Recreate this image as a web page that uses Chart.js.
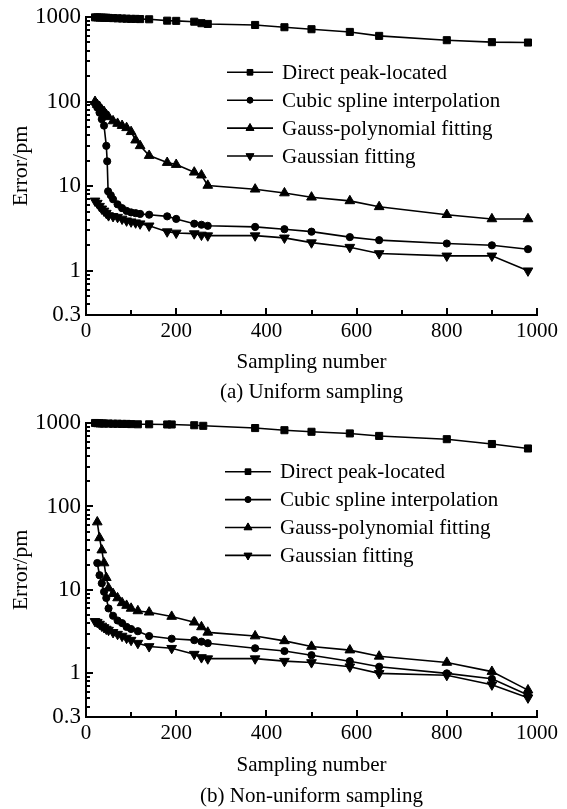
<!DOCTYPE html>
<html><head><meta charset="utf-8">
<script src="https://cdn.jsdelivr.net/npm/chart.js@4"></script>
<style>
html,body{margin:0;padding:0;background:#fff;}
canvas{display:block;}
</style>
</head><body>
<canvas id="c1" width="567" height="404"></canvas>
<canvas id="c2" width="567" height="405"></canvas>
<script>
// ---------- data ----------
const seriesNames = ['Direct peak-located','Cubic spline interpolation','Gauss-polynomial fitting','Gaussian fitting'];
const yTickValues = [0.3, 1, 10, 100, 1000];
const xAxisTitle = 'Sampling number';
const yAxisTitle = 'Error/pm';
const captionA = '(a) Uniform sampling';
const captionB = '(b) Non-uniform sampling';

// (a) Uniform sampling
const xDirectA = [20,25,30,35,40,45,50,60,70,80,90,100,110,120,140,180,200,240,256,270,375,440,500,585,650,800,900,980];
const yDirectA = [990,990,985,985,980,980,975,970,965,960,955,950,950,945,940,905,900,880,845,828,805,757,717,666,598,532,504,499];
const xCubicA = [20,25,30,35,40,45,47,49,55,60,70,80,90,100,110,120,140,180,200,240,256,270,375,440,500,585,650,800,900,980];
const yCubicA = [95,85,74,62,52,30,19.7,8.7,7.8,7.0,6.1,5.5,5.1,4.9,4.8,4.7,4.6,4.4,4.1,3.6,3.5,3.4,3.3,3.1,2.9,2.5,2.3,2.1,2.0,1.8];
const xGaussPolyA = [20,25,30,35,40,45,50,60,70,80,90,100,110,120,140,180,200,240,256,270,375,440,500,585,650,800,900,980];
const yGaussPolyA = [100,92,87,80,76,70,66,59,55,52,49,44,35,30,23,19,18,14.6,13.5,10.2,9.2,8.3,7.4,6.7,5.7,4.6,4.1,4.1];
const xGaussianA = [20,25,30,35,40,45,50,60,70,80,90,100,110,120,140,180,200,240,256,270,375,440,500,585,650,800,900,980];
const yGaussianA = [6.7,6.3,5.8,5.4,5.1,4.8,4.5,4.4,4.3,4.1,3.9,3.8,3.7,3.6,3.4,2.9,2.8,2.75,2.65,2.6,2.6,2.45,2.15,1.9,1.6,1.5,1.5,1.0];

// (b) Non-uniform sampling
const xDirectB = [20,25,30,35,40,50,60,70,80,90,100,115,140,180,190,240,260,375,440,500,585,650,800,900,980];
const yDirectB = [1000,995,990,990,985,985,980,980,975,975,970,965,965,960,960,940,925,870,820,785,750,700,640,560,495];
const xCubicB = [25,30,35,40,45,50,60,70,80,90,100,115,140,190,240,256,270,375,440,500,585,650,800,900,980];
const yCubicB = [21,15,12,9.5,8.0,6.0,4.9,4.3,4.0,3.6,3.4,3.2,2.8,2.6,2.5,2.4,2.3,2.0,1.85,1.65,1.4,1.2,1.0,0.86,0.55];
const xGaussPolyB = [25,30,35,40,45,50,60,70,80,90,100,115,140,190,240,256,270,375,440,500,585,650,800,900,980];
const yGaussPolyB = [65,42,30,21,14,10.5,9.0,8.0,7.0,6.5,6.0,5.6,5.4,4.8,4.1,3.6,3.1,2.8,2.45,2.1,1.9,1.6,1.35,1.05,0.63];
const xGaussianB = [20,25,30,35,40,45,50,60,70,80,90,100,115,140,190,240,256,270,375,440,500,585,650,800,900,980];
const yGaussianB = [4.2,4.1,3.9,3.7,3.55,3.4,3.3,3.1,2.95,2.8,2.65,2.5,2.3,2.1,2.0,1.7,1.55,1.5,1.5,1.4,1.35,1.2,1.0,0.95,0.73,0.51];

// ---------- styling ----------
const FONT = 'Liberation Serif';
const markerStyles = [
  {pointStyle:'rect', pointRadius:5, pointRotation:0, legendRadius:4},
  {pointStyle:'circle', pointRadius:3.6, pointRotation:0, legendRadius:3},
  {pointStyle:'triangle', pointRadius:5.6, pointRotation:0, legendRadius:4.6},
  {pointStyle:'triangle', pointRadius:5.6, pointRotation:180, legendRadius:4.6}
];

function pts(xs, ys){ return xs.map((x,i)=>({x:x, y:ys[i]})); }

function buildDatasets(list){
  return list.map((s,i)=>({
    label: seriesNames[i],
    data: pts(s[0], s[1]),
    borderColor:'#000', backgroundColor:'#000',
    borderWidth:1.6, pointBorderWidth:1, pointBorderColor:'#000', pointBackgroundColor:'#000',
    pointStyle: markerStyles[i].pointStyle,
    pointRadius: markerStyles[i].pointRadius,
    pointRotation: markerStyles[i].pointRotation,
    tension:0, fill:false, clip:false
  }));
}

const inwardTicks = {
  id:'inwardTicks',
  afterDraw(chart){
    const ctx = chart.ctx, a = chart.chartArea;
    const xs = chart.scales.x, ys = chart.scales.y;
    ctx.save();
    ctx.strokeStyle = '#000'; ctx.lineWidth = 2;
    const yMajor = [1,10,100,1000];
    const yMinor = [];
    [0.1,1,10,100].forEach(d=>{ for(let k=2;k<=9;k++){ const v=k*d; if(v>0.3 && v<1000) yMinor.push(v);} });
    ctx.beginPath();
    yMajor.forEach(v=>{ const p=Math.round(ys.getPixelForValue(v)); ctx.moveTo(a.left, p); ctx.lineTo(a.left+7, p); });
    yMinor.forEach(v=>{ const p=Math.round(ys.getPixelForValue(v)); ctx.moveTo(a.left, p); ctx.lineTo(a.left+4, p); });
    for(let v=100; v<=1000; v+=100){
      const p=Math.round(xs.getPixelForValue(v));
      ctx.moveTo(p, a.bottom); ctx.lineTo(p, a.bottom - (v%200===0 ? 7 : 5));
    }
    ctx.stroke();
    ctx.restore();
  }
};

const boxLegend = {
  id:'boxLegend',
  afterDraw(chart, args, opts){
    const ctx = chart.ctx, a = chart.chartArea;
    ctx.save();
    ctx.font = '21px "' + FONT + '"';
    ctx.fillStyle = '#000'; ctx.strokeStyle = '#000';
    ctx.textBaseline = 'middle'; ctx.textAlign = 'left';
    chart.data.datasets.forEach((ds,i)=>{
      const y = a.top + opts.top + i*opts.spacing;
      const x0 = a.left + opts.left;
      ctx.lineWidth = 1.6;
      ctx.beginPath(); ctx.moveTo(x0, y); ctx.lineTo(x0 + opts.lineLen, y); ctx.stroke();
      ctx.lineWidth = 1;
      Chart.helpers.drawPoint(ctx, {pointStyle: markerStyles[i].pointStyle, radius: markerStyles[i].legendRadius, rotation: markerStyles[i].pointRotation, borderWidth:1}, x0 + opts.lineLen/2, y);
      ctx.fill();
      ctx.fillText(ds.label, x0 + opts.lineLen + opts.gap, y + 1);
    });
    ctx.restore();
  }
};

const caption = {
  id:'caption',
  afterDraw(chart, args, opts){
    const ctx = chart.ctx, a = chart.chartArea;
    ctx.save();
    ctx.font = '21px "' + FONT + '"';
    ctx.fillStyle = '#000'; ctx.textAlign = 'center'; ctx.textBaseline = 'middle';
    ctx.fillText(opts.text, (a.left + a.right)/2, opts.y);
    ctx.restore();
  }
};

function makeChart(id, seriesList, cfg){
  return new Chart(document.getElementById(id), {
    type:'line',
    data:{ datasets: buildDatasets(seriesList) },
    options:{
      responsive:false, animation:false, devicePixelRatio:1,
      layout:{ padding:{ top:cfg.top, right:30, bottom:0, left:0 } },
      plugins:{
        legend:{display:false}, tooltip:{enabled:false},
        boxLegend:{ left:cfg.legLeft, top:cfg.legTop, spacing:27.9, lineLen:46, gap:9 },
        caption:{ text:cfg.caption, y:cfg.capY },
        inwardTicks:{}
      },
      scales:{
        x:{
          type:'linear', min:0, max:1000,
          ticks:{ stepSize:200, color:'#000', font:{family:FONT, size:21}, padding:4, maxRotation:0, autoSkip:false, callback:(v)=>String(v) },
          grid:{ display:false, drawTicks:false },
          border:{ display:true, color:'#000', width:2 },
          title:{ display:true, text:xAxisTitle, color:'#000', font:{family:FONT, size:21}, padding:{top:0, bottom:cfg.xTitlePad} },
          afterFit(s){ s.height = cfg.xHeight; s.paddingLeft = 0; s.paddingRight = 0; }
        },
        y:{
          type:'logarithmic', min:0.3, max:1000,
          afterBuildTicks(s){ s.ticks = yTickValues.map(v=>({value:v})); },
          ticks:{ color:'#000', font:{family:FONT, size:23}, padding:5, autoSkip:false, callback:(v)=>String(v) },
          grid:{ display:false, drawTicks:false },
          border:{ display:true, color:'#000', width:2 },
          title:{ display:true, text:yAxisTitle, color:'#000', font:{family:FONT, size:22}, padding:{top:8, bottom:0} },
          afterFit(s){ s.width = 86; s.paddingTop = 0; s.paddingBottom = 0; }
        }
      }
    },
    plugins:[inwardTicks, boxLegend, caption]
  });
}

makeChart('c1', [[xDirectA,yDirectA],[xCubicA,yCubicA],[xGaussPolyA,yGaussPolyA],[xGaussianA,yGaussianA]],
  {top:17, xHeight:89, xTitlePad:29.4, caption:captionA, capY:392, legLeft:141, legTop:55.3});
makeChart('c2', [[xDirectB,yDirectB],[xCubicB,yCubicB],[xGaussPolyB,yGaussPolyB],[xGaussianB,yGaussianB]],
  {top:19, xHeight:92, xTitlePad:31, caption:captionB, capY:392, legLeft:139, legTop:48.7});
</script>
</body></html>
